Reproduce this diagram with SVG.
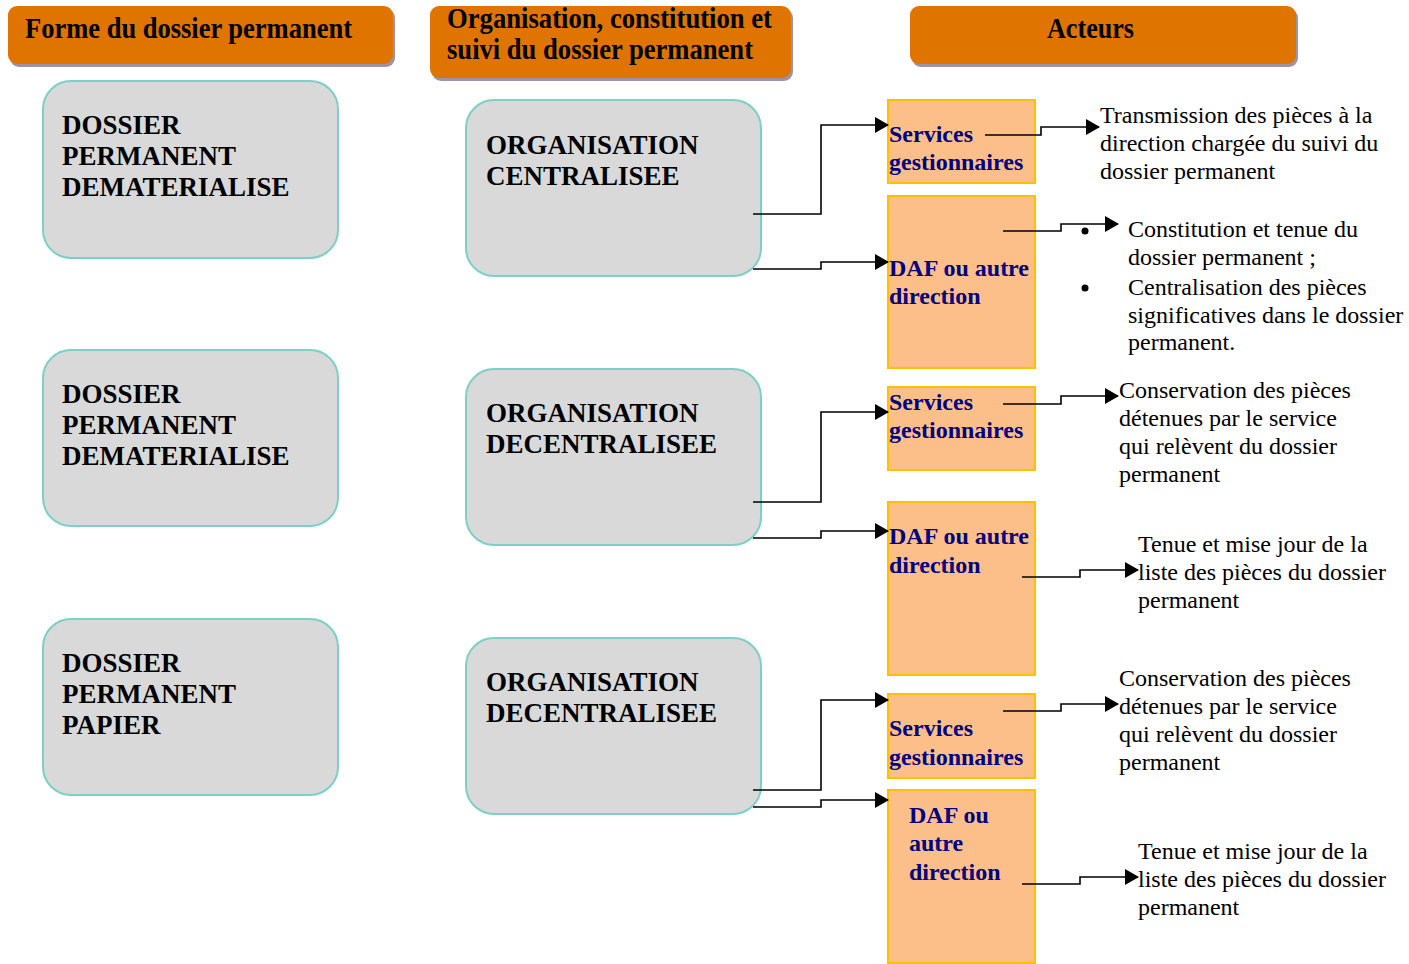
<svg xmlns="http://www.w3.org/2000/svg" width="1409" height="964" viewBox="0 0 1409 964">
<defs>
<marker id="arr" markerUnits="userSpaceOnUse" markerWidth="14" markerHeight="16" refX="13" refY="8" orient="auto">
<path d="M0,0 L14,8 L0,16 Z" fill="#000"/>
</marker>
<style>
.hdr{fill:#e07400;}
.shd{fill:#9d93a6;}
.hdrt{font-family:"Liberation Serif",serif;font-weight:bold;font-size:29px;fill:#000;}
.gbox{fill:#d9d9d9;stroke:#7dd0c6;stroke-width:2;}
.gt{font-family:"Liberation Serif",serif;font-weight:bold;font-size:27px;fill:#000;}
.obox{fill:#fdbf8a;stroke:#ffc000;stroke-width:2;}
.ot{font-family:"Liberation Serif",serif;font-weight:bold;font-size:24px;fill:#000080;}
.rt{font-family:"Liberation Serif",serif;font-size:24px;fill:#000;}
.con{fill:none;stroke:#000;stroke-width:1.6;marker-end:url(#arr);}
</style>
</defs>
<rect width="1409" height="964" fill="#fff"/>

<g id="header-forme">
<rect class="shd" x="10" y="9" width="385" height="58" rx="9"/>
<rect class="hdr" x="8" y="6" width="385" height="58" rx="9"/>
<text class="hdrt" x="25" y="38" textLength="327" lengthAdjust="spacingAndGlyphs">Forme du dossier permanent</text>
</g>
<g id="header-organisation">
<rect class="shd" x="432" y="9" width="361" height="72" rx="9"/>
<rect class="hdr" x="430" y="6" width="361" height="72" rx="9"/>
<text class="hdrt" x="447" y="28" textLength="325" lengthAdjust="spacingAndGlyphs">Organisation, constitution et</text>
<text class="hdrt" x="447" y="59" textLength="306" lengthAdjust="spacingAndGlyphs">suivi du dossier permanent</text>
</g>
<g id="header-acteurs">
<rect class="shd" x="912" y="9" width="386" height="58" rx="9"/>
<rect class="hdr" x="910" y="6" width="386" height="58" rx="9"/>
<text class="hdrt" x="1047" y="38" textLength="87" lengthAdjust="spacingAndGlyphs">Acteurs</text>
</g>

<g id="forme-1">
<rect class="gbox" x="43" y="81" width="295" height="177" rx="28"/>
<text class="gt" x="62" y="134">DOSSIER</text>
<text class="gt" x="62" y="165">PERMANENT</text>
<text class="gt" x="62" y="196">DEMATERIALISE</text>
</g>
<g id="forme-2">
<rect class="gbox" x="43" y="350" width="295" height="176" rx="28"/>
<text class="gt" x="62" y="403">DOSSIER</text>
<text class="gt" x="62" y="434">PERMANENT</text>
<text class="gt" x="62" y="465">DEMATERIALISE</text>
</g>
<g id="forme-3">
<rect class="gbox" x="43" y="619" width="295" height="176" rx="28"/>
<text class="gt" x="62" y="672">DOSSIER</text>
<text class="gt" x="62" y="703">PERMANENT</text>
<text class="gt" x="62" y="734">PAPIER</text>
</g>

<g id="org-1">
<rect class="gbox" x="466" y="100" width="295" height="176" rx="28"/>
<text class="gt" x="486" y="154">ORGANISATION</text>
<text class="gt" x="486" y="185">CENTRALISEE</text>
</g>
<g id="org-2">
<rect class="gbox" x="466" y="369" width="295" height="176" rx="28"/>
<text class="gt" x="486" y="422">ORGANISATION</text>
<text class="gt" x="486" y="453">DECENTRALISEE</text>
</g>
<g id="org-3">
<rect class="gbox" x="466" y="638" width="295" height="176" rx="28"/>
<text class="gt" x="486" y="691">ORGANISATION</text>
<text class="gt" x="486" y="722">DECENTRALISEE</text>
</g>

<g id="services-1">
<rect class="obox" x="888" y="100" width="147" height="83"/>
<text class="ot" x="889" y="142">Services</text>
<text class="ot" x="889" y="170">gestionnaires</text>
</g>
<g id="daf-1">
<rect class="obox" x="888" y="196" width="147" height="172"/>
<text class="ot" x="889" y="276">DAF ou autre</text>
<text class="ot" x="889" y="304">direction</text>
</g>
<g id="services-2">
<rect class="obox" x="888" y="387" width="147" height="83"/>
<text class="ot" x="889" y="410">Services</text>
<text class="ot" x="889" y="438">gestionnaires</text>
</g>
<g id="daf-2">
<rect class="obox" x="888" y="502" width="147" height="173"/>
<text class="ot" x="889" y="544">DAF ou autre</text>
<text class="ot" x="889" y="573">direction</text>
</g>
<g id="services-3">
<rect class="obox" x="888" y="694" width="147" height="84"/>
<text class="ot" x="889" y="736">Services</text>
<text class="ot" x="889" y="765">gestionnaires</text>
</g>
<g id="daf-3">
<rect class="obox" x="888" y="790" width="147" height="173"/>
<text class="ot" x="909" y="823">DAF ou</text>
<text class="ot" x="909" y="851">autre</text>
<text class="ot" x="909" y="880">direction</text>
</g>

<g id="note-1">
<text class="rt" x="1100" y="123">Transmission des pièces à la</text>
<text class="rt" x="1100" y="151">direction chargée du suivi du</text>
<text class="rt" x="1100" y="179">dossier permanent</text>
</g>
<g id="note-2">
<circle cx="1085" cy="231" r="3.5" fill="#000"/>
<circle cx="1085" cy="288" r="3.5" fill="#000"/>
<text class="rt" x="1128" y="237">Constitution et tenue du</text>
<text class="rt" x="1128" y="265">dossier permanent ;</text>
<text class="rt" x="1128" y="295">Centralisation des pièces</text>
<text class="rt" x="1128" y="323">significatives dans le dossier</text>
<text class="rt" x="1128" y="350">permanent.</text>
</g>
<g id="note-3">
<text class="rt" x="1119" y="398">Conservation des pièces</text>
<text class="rt" x="1119" y="426">détenues par le service</text>
<text class="rt" x="1119" y="454">qui relèvent du dossier</text>
<text class="rt" x="1119" y="482">permanent</text>
</g>
<g id="note-4">
<text class="rt" x="1138" y="552">Tenue et mise jour de la</text>
<text class="rt" x="1138" y="580">liste des pièces du dossier</text>
<text class="rt" x="1138" y="608">permanent</text>
</g>
<g id="note-5">
<text class="rt" x="1119" y="686">Conservation des pièces</text>
<text class="rt" x="1119" y="714">détenues par le service</text>
<text class="rt" x="1119" y="742">qui relèvent du dossier</text>
<text class="rt" x="1119" y="770">permanent</text>
</g>
<g id="note-6">
<text class="rt" x="1138" y="859">Tenue et mise jour de la</text>
<text class="rt" x="1138" y="887">liste des pièces du dossier</text>
<text class="rt" x="1138" y="915">permanent</text>
</g>

<g id="connectors">
<path class="con" d="M753,214 H821 V125 H888"/>
<path class="con" d="M753,269 H821 V262 H888"/>
<path class="con" d="M985,135 H1041 V127 H1099"/>
<path class="con" d="M1003,231 H1061 V224 H1118"/>
<path class="con" d="M753,502 H821 V412 H888"/>
<path class="con" d="M753,538 H821 V531 H888"/>
<path class="con" d="M1003,404 H1061 V396 H1118"/>
<path class="con" d="M1022,577 H1080 V570 H1138"/>
<path class="con" d="M753,790 H821 V700 H888"/>
<path class="con" d="M753,807 H821 V800 H888"/>
<path class="con" d="M1003,711 H1061 V704 H1118"/>
<path class="con" d="M1022,884 H1080 V877 H1138"/>
</g>
</svg>
